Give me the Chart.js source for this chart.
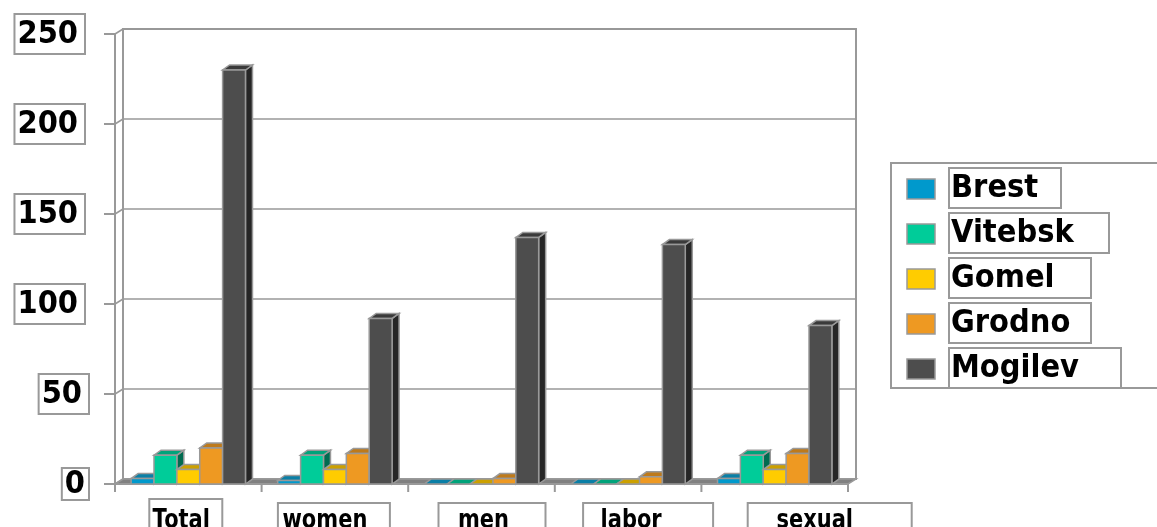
<!DOCTYPE html>
<html><head><meta charset="utf-8">
<style>html,body{margin:0;padding:0;background:#fff;overflow:hidden}canvas{display:block}</style>
<script src="https://cdn.jsdelivr.net/npm/chart.js"></script>
</head><body>
<canvas id="c" width="1157" height="527"></canvas>
<script>
// ---- data ----
const categories = ['Total', 'women', 'men', 'labor', 'sexual'];
const seriesNames = ['Brest', 'Vitebsk', 'Gomel', 'Grodno', 'Mogilev'];
const brest   = [3, 2, 0, 0, 3];
const vitebsk = [16, 16, 0, 0, 16];
const gomel   = [8, 8, 0, 0, 8];
const grodno  = [20, 17, 3, 4, 17];
const mogilev = [230, 92, 137, 133, 88];
const yTickValues = [0, 50, 100, 150, 200, 250];

// ---- styles ----
const FRONT = ['#0099CC', '#00CC99', '#FFCC00', '#EE9922', '#4D4D4D'];
const TOPC  = ['#0A7FA6', '#00A37A', '#CCA000', '#BE7A1B', '#3A3A3A'];
const SIDE  = ['#005C7A', '#006B50', '#997A00', '#8F5C14', '#262626'];
const EDGE = '#999999';
const FONT_BIG = "bold 29px 'DejaVu Sans'";
const FONT_X = "bold 21px 'DejaVu Sans'";
// x label box extents relative to category centre [left, right, textOffset, top]
const xLabelLayout = [[-39, 34, -7, 499], [-57, 55, -10, 503], [-43, 64, 2, 503], [-45, 85, 3, 503], [-27, 137, 40, 503]];
const legendBoxWidths = [112, 160, 142, 142, 172];

const allSeries = [brest, vitebsk, gomel, grodno, mogilev];

function poly(ctx, pts, fill, stroke, lw) {
  ctx.beginPath();
  ctx.moveTo(pts[0][0], pts[0][1]);
  for (let i = 1; i < pts.length; i++) ctx.lineTo(pts[i][0], pts[i][1]);
  ctx.closePath();
  if (fill) { ctx.fillStyle = fill; ctx.fill(); }
  if (stroke) { ctx.strokeStyle = stroke; ctx.lineWidth = lw || 1.5; ctx.stroke(); }
}
function line(ctx, x1, y1, x2, y2, lw) {
  ctx.beginPath(); ctx.moveTo(x1, y1); ctx.lineTo(x2, y2);
  ctx.strokeStyle = EDGE; ctx.lineWidth = lw || 2; ctx.stroke();
}
// text drawn with a slight vertical stretch (reference face is taller than DejaVu)
function tallText(ctx, txt, x, y, sy) {
  ctx.save();
  ctx.translate(x, y);
  ctx.scale(1, sy);
  ctx.fillStyle = '#000';
  ctx.fillText(txt, 0, 0);
  ctx.restore();
}

const WDX = 8, WDY = -5;   // wall depth
const BDX = 7, BDY = -5;   // bar depth

const p3d = {
  id: 'p3d',
  beforeDraw(chart) {
    const ctx = chart.ctx, ys = chart.scales.y, xs = chart.scales.x;
    const ca = chart.chartArea;
    const L = ca.left, R = ca.right;
    const B = ys.getPixelForValue(0), T = ys.getPixelForValue(yTickValues[yTickValues.length - 1]);
    ctx.save();
    ctx.fillStyle = '#fff'; ctx.fillRect(0, 0, chart.width, chart.height);
    // back wall
    ctx.strokeStyle = EDGE; ctx.lineWidth = 2;
    ctx.strokeRect(L + WDX, T + WDY, R - L, B - T);
    // gridlines, wall diagonals, ticks and labels
    yTickValues.forEach(v => {
      const py = ys.getPixelForValue(v);
      line(ctx, L + WDX, py + WDY, R + WDX, py + WDY, 1.5);
      line(ctx, L, py, L + WDX, py + WDY, 1.5);
      line(ctx, L - 11, py, L, py, 2);
      // boxed tick label
      ctx.font = FONT_BIG; ctx.textAlign = 'right'; ctx.textBaseline = 'middle';
      const txt = String(v);
      const w = ctx.measureText(txt).width;
      const len = txt.length;
      const tr = [85, 82, 78][len - 1];
      const br = [89, 89, 85][len - 1];
      const bh = v === 0 ? 32 : 40;
      tallText(ctx, txt, tr, py + 1, 1.07);
      ctx.strokeStyle = EDGE; ctx.lineWidth = 2;
      ctx.strokeRect(tr - w - 3, py - bh / 2, br - (tr - w - 3), bh);
    });
    // front vertical axis
    line(ctx, L, T, L, B + 8, 2);
    line(ctx, L + WDX, T + WDY, L + WDX, B + WDY, 2);
    // floor slab
    poly(ctx, [[L, B], [R, B], [R + WDX, B + WDY], [L + WDX, B + WDY]], '#808080', EDGE, 1.5);
    line(ctx, L - 11, B, R, B, 2);
    // category ticks
    const n = categories.length;
    for (let k = 0; k <= n; k++) {
      const xb = L + k * (R - L) / n;
      line(ctx, xb, B, xb, B + 8, 2);
    }
    // x labels
    ctx.font = FONT_X; ctx.textAlign = 'center'; ctx.textBaseline = 'alphabetic';
    categories.forEach((c, i) => {
      const cx = xs.getPixelForValue(i);
      const lay = xLabelLayout[i];
      tallText(ctx, c, cx + lay[2], 528, 1.3);
      ctx.strokeStyle = EDGE; ctx.lineWidth = 2;
      ctx.strokeRect(cx + lay[0], lay[3], lay[1] - lay[0], 60);
    });
    ctx.restore();
  },
  beforeDatasetsDraw(chart) {
    const ctx = chart.ctx;
    ctx.save();
    ctx.lineJoin = 'miter';
    const nCat = categories.length, nSer = chart.data.datasets.length;
    for (let j = 0; j < nCat; j++) {
      for (let i = 0; i < nSer; i++) {
        const el = chart.getDatasetMeta(i).data[j];
        const w = el.width, l = el.x - w / 2, r = el.x + w / 2, top = el.y, base = el.base;
        poly(ctx, [[r, top], [r + BDX, top + BDY], [r + BDX, base + BDY], [r, base]], SIDE[i], EDGE, 1.5);
        poly(ctx, [[l, top], [r, top], [r + BDX, top + BDY], [l + BDX, top + BDY]], TOPC[i], EDGE, 1.5);
        if (base - top > 0.5) poly(ctx, [[l, top], [r, top], [r, base], [l, base]], FRONT[i], EDGE, 1.5);
      }
    }
    ctx.restore();
    return false;
  },
  afterDraw(chart) {
    const ctx = chart.ctx;
    ctx.save();
    ctx.strokeStyle = EDGE; ctx.lineWidth = 2;
    ctx.strokeRect(891, 163, 300, 225);
    chart.data.datasets.forEach((ds, i) => {
      const by = 168 + i * 45, bh = 40, cy = by + bh / 2 + 1;
      ctx.fillStyle = ds.backgroundColor;
      ctx.fillRect(907, cy - 10, 28, 20);
      ctx.strokeStyle = EDGE; ctx.lineWidth = 1.5;
      ctx.strokeRect(907, cy - 10, 28, 20);
      ctx.font = FONT_BIG; ctx.textAlign = 'left'; ctx.textBaseline = 'middle';
      tallText(ctx, ds.label, 951, cy, 1.07);
      ctx.strokeStyle = EDGE; ctx.lineWidth = 2;
      ctx.strokeRect(949, by, legendBoxWidths[i], bh);
    });
    ctx.restore();
  }
};

new Chart(document.getElementById('c'), {
  type: 'bar',
  data: {
    labels: categories,
    datasets: seriesNames.map((name, i) => ({
      label: name,
      data: allSeries[i],
      backgroundColor: FRONT[i]
    }))
  },
  options: {
    responsive: false,
    animation: false,
    devicePixelRatio: 1,
    layout: { padding: { left: 115, right: 309, top: 34, bottom: 43 } },
    plugins: { legend: { display: false }, tooltip: { enabled: false } },
    datasets: { bar: { categoryPercentage: 0.78, barPercentage: 1 } },
    scales: {
      x: { display: false, offset: true },
      y: { display: false, min: 0, max: 250 }
    }
  },
  plugins: [p3d]
});
</script>
</body></html>
